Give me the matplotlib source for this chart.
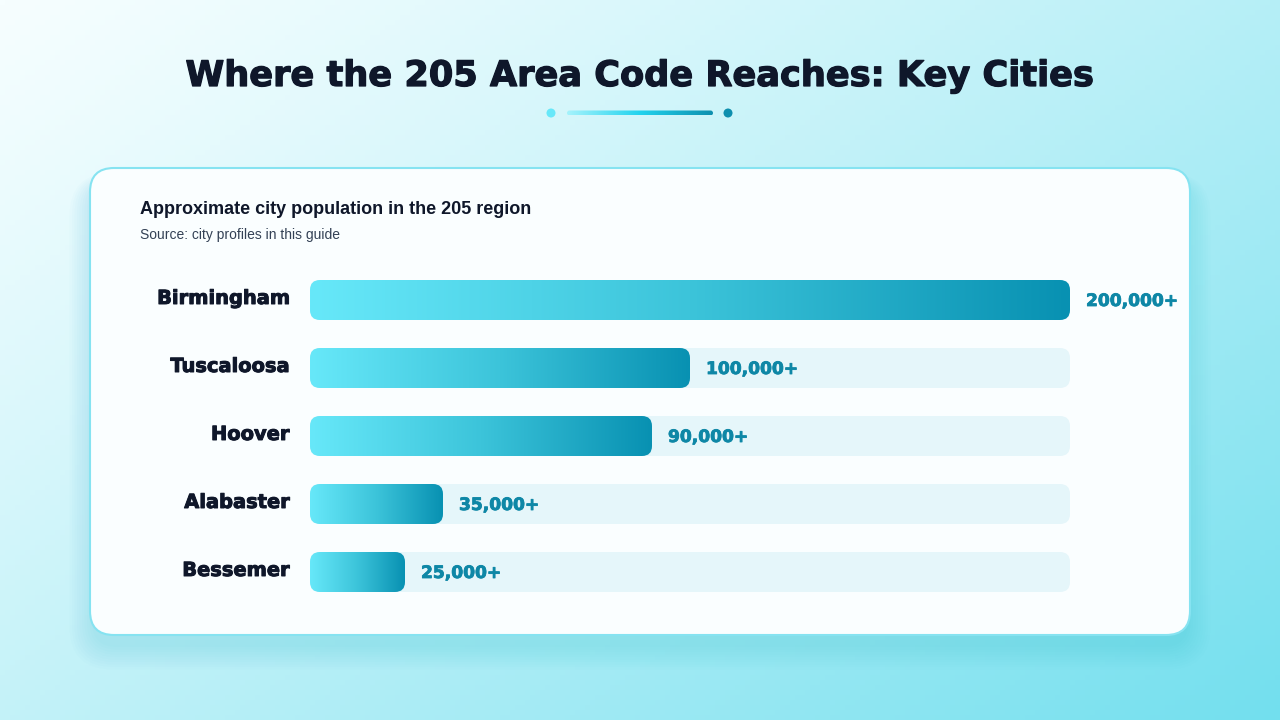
import numpy as np
import matplotlib.pyplot as plt
import matplotlib.patheffects as pe
from matplotlib.patches import FancyBboxPatch, Circle
from matplotlib.colors import LinearSegmentedColormap, to_rgb

cities = ["Birmingham", "Tuscaloosa", "Hoover", "Alabaster", "Bessemer"]
population = [200000, 100000, 90000, 35000, 25000]
value_labels = ["200,000+", "100,000+", "90,000+", "35,000+", "25,000+"]

W, H = 1280, 720
fig = plt.figure(figsize=(12.8, 7.2), dpi=100)

# background gradient
bg = fig.add_axes([0, 0, 1, 1])
bg.set_xlim(0, W)
bg.set_ylim(H, 0)
bg.axis("off")
xx, yy = np.meshgrid(np.linspace(0, 1, 256), np.linspace(0, 1, 144))
t = np.clip(0.55 * xx + 0.45 * yy, 0, 1) ** 1.2
c0 = np.array(to_rgb("#f6feff"))
c1 = np.array(to_rgb("#72dfee"))
img = c0[None, None, :] * (1 - t[..., None]) + c1[None, None, :] * t[..., None]
bg.imshow(img, extent=[0, W, H, 0], aspect="auto", zorder=0)

# card shadow + card
for i in range(10):
    s = FancyBboxPatch((92 - i * 2.5, 182 - i * 1), 1096 + i * 5, 465 + i * 3.5,
                       boxstyle="round,pad=0,rounding_size=%d" % (25 + i * 2),
                       fc="#30b8d0", ec="none", alpha=0.02, zorder=1)
    bg.add_patch(s)
card = FancyBboxPatch((90, 168), 1100, 467, boxstyle="round,pad=0,rounding_size=24",
                      fc="#fafeff", ec="#86e3f1", lw=1.5, zorder=2)
bg.add_patch(card)

heavy = [pe.withStroke(linewidth=0.9, foreground="#0f172a")]

# title
bg.text(640, 76, "Where the 205 Area Code Reaches: Key Cities", ha="center", va="center",
        fontsize=25.3, fontweight="bold", color="#0f172a", family="DejaVu Sans", zorder=3,
        path_effects=heavy)

# decoration under title
bg.add_patch(Circle((551, 113), 4.5, fc="#67e8f9", ec="none", zorder=3))
bg.add_patch(Circle((728, 113), 4.5, fc="#0e8fae", ec="none", zorder=3))
line_cmap = LinearSegmentedColormap.from_list("ln", ["#a5f3fc", "#22d3ee", "#0e8fae"])
line_patch = FancyBboxPatch((567, 110.5), 146, 5, boxstyle="round,pad=0,rounding_size=2.5",
                            fc="none", ec="none", zorder=3)
bg.add_patch(line_patch)
li = bg.imshow(np.linspace(0, 1, 256)[None, :], cmap=line_cmap, extent=[567, 713, 115.5, 110.5],
               aspect="auto", zorder=3)
li.set_clip_path(line_patch)

# card heading
bg.text(140, 210, "Approximate city population in the 205 region", ha="left", va="center",
        fontsize=13, fontweight="bold", color="#0f172a", family="Liberation Sans", zorder=3)
bg.text(140, 235, "Source: city profiles in this guide", ha="left", va="center",
        fontsize=10, color="#334155", family="Liberation Sans", zorder=3)

# bar axes
ax = fig.add_axes([310 / W, (H - 606) / H, 760 / W, 340 / H])
ax.patch.set_alpha(0)
ax.axis("off")
xmax = max(population)
n = len(cities)
ax.set_xlim(0, xmax)
ax.set_ylim(n - 0.5, -0.5)

bar_h = 40 / 68
xu = xmax / 760.0
yu = 1 / 68.0
rad = 10 * xu
aspect = yu / xu
bar_cmap = LinearSegmentedColormap.from_list("bar", ["#67e8f9", "#3cc4da", "#0891b2"])

for i, (city, val, lab) in enumerate(zip(cities, population, value_labels)):
    track = FancyBboxPatch((0, i - bar_h / 2), xmax, bar_h,
                           boxstyle="round,pad=0,rounding_size=%f" % rad,
                           mutation_aspect=aspect, fc="#e5f6fa", ec="none", zorder=1)
    ax.add_patch(track)
    bar = FancyBboxPatch((0, i - bar_h / 2), val, bar_h,
                         boxstyle="round,pad=0,rounding_size=%f" % rad,
                         mutation_aspect=aspect, fc="none", ec="none", zorder=2)
    ax.add_patch(bar)
    im = ax.imshow(np.linspace(0, 1, 256)[None, :], cmap=bar_cmap,
                   extent=[0, val, i + bar_h / 2, i - bar_h / 2], aspect="auto", zorder=2)
    im.set_clip_path(bar)
    ax.text(val + 16 * xu, i + 1 * yu, lab, ha="left", va="center", fontsize=12.3,
            fontweight="bold", color="#0e87a6", family="DejaVu Sans", clip_on=False,
            path_effects=[pe.withStroke(linewidth=0.6, foreground="#0e87a6")])
    ax.text(-20 * xu, i - 1.5 * yu, city, ha="right", va="center", fontsize=14,
            fontweight="bold", color="#0f172a", family="DejaVu Sans", clip_on=False,
            path_effects=[pe.withStroke(linewidth=0.7, foreground="#0f172a")])

ax.set_xlim(0, xmax)
ax.set_ylim(n - 0.5, -0.5)

fig.savefig("out.png", dpi=100)
